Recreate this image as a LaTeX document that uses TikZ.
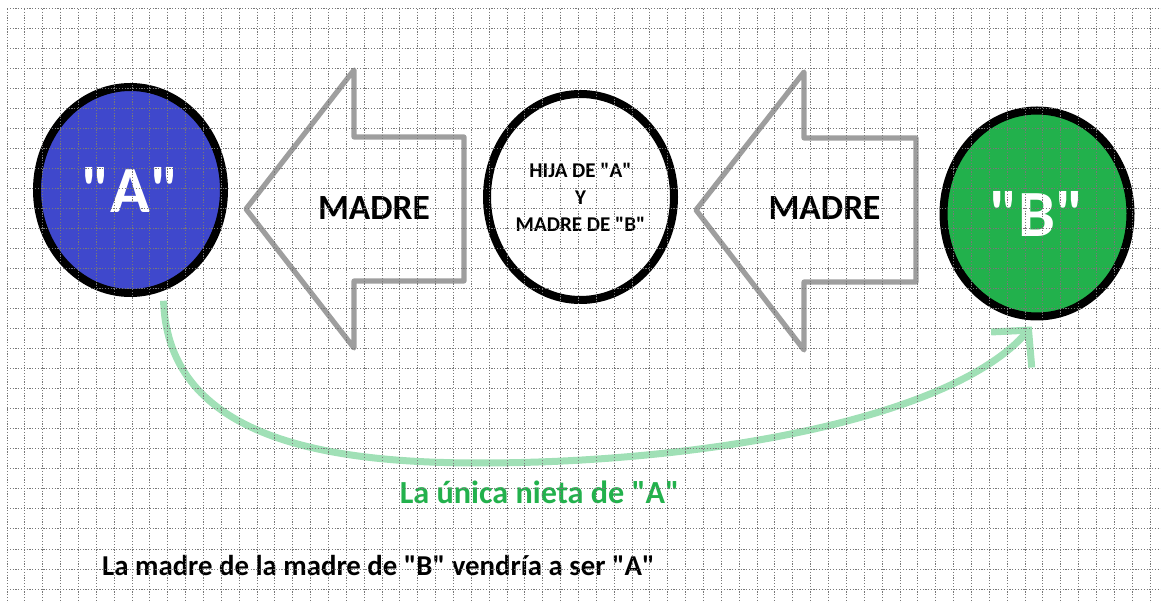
\documentclass[tikz,border=0pt]{standalone}
\usepackage{fontspec}
\setmainfont{Carlito}[Ligatures=TeXOff]
\usetikzlibrary{arrows.meta,shapes.geometric}
\definecolor{paintblue}{RGB}{63,72,204}
\definecolor{paintgreen}{RGB}{34,177,76}
\definecolor{lightgreen}{RGB}{160,224,182}
\definecolor{arrowgray}{RGB}{158,158,158}
\definecolor{gridgray}{RGB}{120,120,120}
\tikzset{
  circ/.style={ellipse, draw=black, line width=4pt, minimum width=93.5pt, minimum height=103pt, inner sep=0pt},
  bigletter/.style={text=white, font=\bfseries\fontsize{33}{36}\selectfont},
  arrowshape/.style={draw=arrowgray, line width=2.6pt, line join=round},
  madre/.style={font=\bfseries\fontsize{17.7}{20}\selectfont, text=black},
  nieta/.style={draw=lightgreen, line width=3.5pt, -{Straight Barb[length=13pt, width=27pt]}},
  gridline/.style={draw=gridgray, line width=0.5pt, dash pattern=on 0.6pt off 0.8pt},
}
\begin{document}
\begin{tikzpicture}[x=0.5pt,y=-0.5pt]
\useasboundingbox (0,0) rectangle (1161,603);
% circles
\node[circ, fill=paintblue, bigletter] (A) at (130.5,190) {"A"};
\node[circ, align=center, font=\bfseries\fontsize{10.5}{13.5}\selectfont] (M) at (580.5,197) {HIJA DE "A"\\Y\\MADRE DE "B"};
\node[circ, fill=paintgreen, bigletter] (B) at (1037,213.5) {"B"};
% big arrows
\draw[arrowshape] (246,209) -- (354,70) -- (354,137) -- (464,137) -- (464,281) -- (354,281) -- (354,348) -- cycle;
\node[madre] (m1) at (374,208) {MADRE};
\draw[arrowshape] (696,210) -- (804,72) -- (804,138) -- (916,138) -- (916,282) -- (804,282) -- (804,350) -- cycle;
\node[madre] (m2) at (824.5,208) {MADRE};
% green curved arrow
\draw[nieta, shorten <=5pt, shorten >=4pt] (A.-72) .. controls (168,440) and (330,463) .. (480,463) .. controls (700,463) and (950,420) .. (B.south);
\node[font=\bfseries\fontsize{16.1}{19}\selectfont, text=paintgreen] (t1) at (539.5,492) {La única nieta de "A"};
\node[font=\bfseries\fontsize{14.4}{17}\selectfont, text=black] (t2) at (378.5,566) {La madre de la madre de "B" vendría a ser "A"};
% grid on top
\foreach \k in {0,...,64} {\draw[gridline] ({7+17.86*\k},9) -- ({7+17.86*\k},603);}
\foreach \k in {0,...,29} {\draw[gridline] (7,{9+20*\k}) -- (1161,{9+20*\k});}
\end{tikzpicture}
\end{document}
